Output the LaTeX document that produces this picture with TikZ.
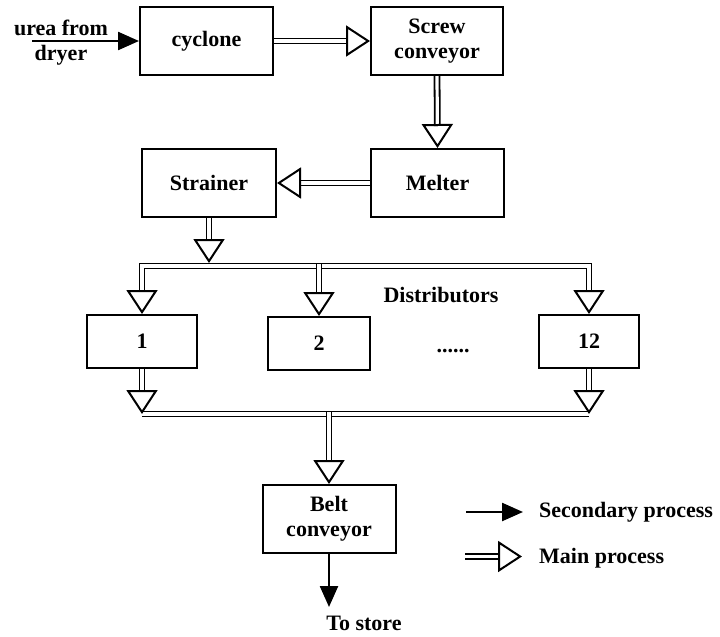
\documentclass[tikz,border=0pt]{standalone}
\usepackage{fontspec}
\setmainfont{Liberation Serif}
\usetikzlibrary{arrows.meta,backgrounds}
\tikzset{
  txt/.style={font=\bfseries\fontsize{22}{25}\selectfont},
  box/.style={txt, draw, line width=2pt, rectangle, align=center, inner sep=0pt},
  lbl/.style={txt, inner sep=0pt, align=center},
  dbl/.style={double, double distance=3.2pt, line width=1.8pt},
  shaft/.style={dbl, shorten >=22pt},
  hollow/.style={draw=white, line width=0.4pt, -{Triangle[open, length=24pt, width=31pt, line width=2pt, color=black]}},
  sec/.style={line width=2.4pt, -{Triangle[length=21pt, width=18pt]}},
}
\newcommand\mainarrow[2]{\draw[shaft] #1 -- #2; \draw[hollow] #1 -- #2;}
\begin{document}
\begin{tikzpicture}[x=1pt, y=-1pt]
\useasboundingbox (0,0) rectangle (720,637);
% boxes
\node[box, minimum width=133pt, minimum height=68pt] (cyc) at (206.5,41) {cyclone};
\node[box, minimum width=132pt, minimum height=68pt] (scr) at (437,41) {Screw\\conveyor};
\node[box, minimum width=133pt, minimum height=68pt] (mel) at (437.5,183) {Melter};
\node[box, minimum width=134pt, minimum height=68pt] (str) at (209,183) {Strainer};
\node[box, minimum width=110pt, minimum height=53pt] (d1) at (142,341.5) {1};
\node[box, minimum width=102pt, minimum height=53pt] (d2) at (319,343.5) {2};
\node[box, minimum width=100pt, minimum height=53pt] (d12) at (589,341.5) {12};
\node[box, minimum width=133pt, minimum height=68pt] (belt) at (329,519) {Belt\\conveyor};
% labels
\node[lbl] (urea) at (61,43) {urea from\\dryer};
\node[lbl] (dist) at (441,295) {Distributors};
\node[lbl, anchor=base] (dots) at (453,352) {......};
\node[lbl, anchor=base] (store) at (364,630) {To store};
\node[lbl, anchor=base west] (lsec) at (539,517) {Secondary process};
\node[lbl, anchor=base west] (lmain) at (539,563) {Main process};
% coordinates
\coordinate (ua) at (32,41);
\coordinate (sb) at (209,263);
\coordinate (s1) at (142,292);
\coordinate (c1) at (142,266);
\coordinate (c12) at (589,266);
\coordinate (s12) at (589,292);
\coordinate (m2) at (319,264.3);
\coordinate (bl) at (142,414);
\coordinate (br) at (589,414);
\coordinate (bm) at (329,412.2);
\coordinate (ts) at (329,607);
\coordinate (l1a) at (466,512);
\coordinate (l1b) at (523,512);
\coordinate (l2a) at (465,556.5);
\coordinate (l2b) at (522,556.5);
\begin{scope}[on background layer]
\draw[sec] (ua) -- (cyc.west);
\mainarrow{(cyc.east)}{(scr.west)}
\mainarrow{(scr.south)}{(mel.north)}
\mainarrow{(mel.west)}{(str.east)}
\mainarrow{(str.south)}{(sb)}
\draw[dbl] (s1) -- (c1) -- (c12) -- (s12);
\draw[hollow] (c1) -- (d1.north);
\draw[hollow] (c12) -- (d12.north);
\mainarrow{(m2)}{(d2.north)}
\draw[dbl] (bl) -- (br);
\mainarrow{(d1.south)}{(bl)}
\mainarrow{(d12.south)}{(br)}
\mainarrow{(bm)}{(belt.north)}
\draw[sec] (belt.south) -- (ts);
\draw[sec] (l1a) -- (l1b);
\mainarrow{(l2a)}{(l2b)}
\end{scope}
\end{tikzpicture}
\end{document}
